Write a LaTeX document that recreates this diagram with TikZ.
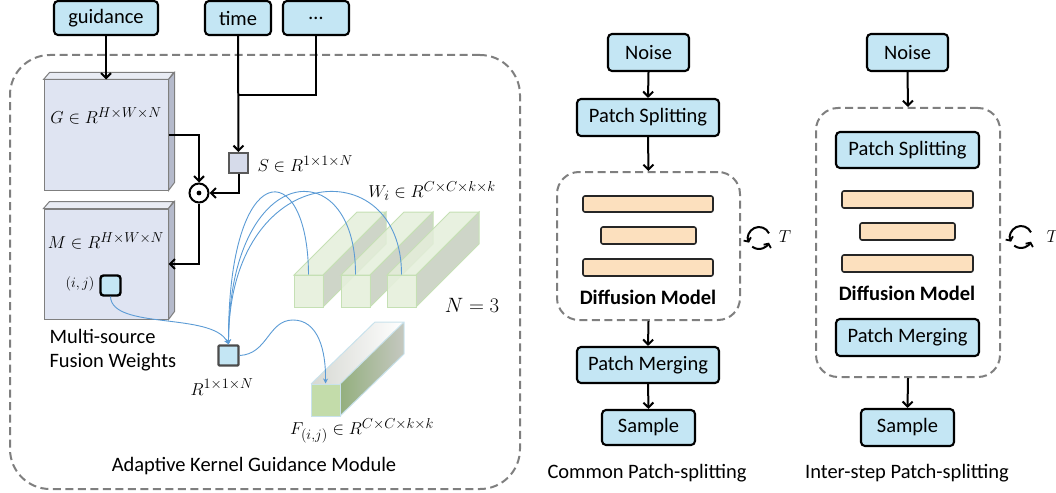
\documentclass[tikz,border=0pt]{standalone}
\usepackage{fontspec}
\setmainfont{Carlito}
\usetikzlibrary{arrows.meta,calc}
\definecolor{lblue}{HTML}{C4E6F4}
\definecolor{peach}{HTML}{FCE0BE}
\definecolor{gfront}{HTML}{DFE4F2}
\definecolor{gside}{HTML}{B5BACB}
\definecolor{gtop}{HTML}{E9ECF4}
\definecolor{sfill}{HTML}{D6DBEA}
\definecolor{cblue}{HTML}{5B9BD5}
\definecolor{dgray}{HTML}{7F7F7F}
\definecolor{wfront}{HTML}{E6F0DC}
\definecolor{wside}{HTML}{C6CEBE}
\definecolor{wtop}{HTML}{E4EEDA}
\definecolor{wedge}{HTML}{C5E0B4}
\definecolor{ffront}{HTML}{C3DCAA}
\definecolor{fgreen}{HTML}{93AF7E}
\definecolor{fgray}{HTML}{C5C8C0}
\definecolor{fedge}{HTML}{C9E2EC}
\tikzset{
  txt/.style={font=\fontsize{20.5}{24}\selectfont},
  mth/.style={font=\fontsize{19}{22}\selectfont},
  bluebox/.style={txt, draw=black, fill=lblue, line width=2.1pt, rounded corners=4pt, inner sep=0pt},
  dashbox/.style={draw=dgray, line width=2pt, dash pattern=on 8pt off 4.5pt, rounded corners=22pt, inner sep=0pt},
  bar/.style={draw=black!85, fill=peach, line width=1.6pt, rounded corners=2pt, inner sep=0pt},
  arr/.style={line width=2pt, -{Straight Barb[length=5pt,width=10pt,line width=2pt]}},
  ln/.style={line width=2pt},
  barr/.style={cblue, line width=0.9pt, -{Stealth[length=5pt,width=5pt]}},
  cube/.style={draw=dgray, line width=1pt},
  wbox/.style={draw=wedge, line width=1pt},
  cyc/.style={line width=2pt, -{Straight Barb[length=3pt,width=8pt,line width=1.8pt]}},
}
\begin{document}
\begin{tikzpicture}[x=1pt,y=-1pt]
\useasboundingbox (0,0) rectangle (1056,492);

% ---------- Left module ----------
\node[dashbox, rounded corners=40pt, minimum width=510pt, minimum height=434pt] (akg) at (265,272) {};
\node[txt] (akglab) at (254,466) {Adaptive Kernel Guidance Module};

% input boxes
\node[bluebox, minimum width=104pt, minimum height=34pt] (guid) at (106,18) {guidance};
\node[bluebox, minimum width=66pt, minimum height=34pt] (time) at (238,18) {time};
\node[bluebox, minimum width=66pt, minimum height=34pt] (dots) at (316,18) {\dots};

% G block
\node[cube, fill=gfront, minimum width=124pt, minimum height=110pt, inner sep=0pt] (G) at (106,135) {};
\draw[cube, fill=gtop] (G.north west) -- ++(6,-7) -- ++(124,0) -- (G.north east) -- cycle;
\draw[cube, fill=gside] (G.north east) -- ++(6,-7) -- ++(0,110) -- (G.south east) -- cycle;
\node[mth] (Glab) at (106,116) {$G\in R^{H\times W\times N}$};

% M block
\node[cube, fill=gfront, minimum width=124pt, minimum height=110pt, inner sep=0pt] (M) at (106,264) {};
\draw[cube, fill=gtop] (M.north west) -- ++(6,-7) -- ++(124,0) -- (M.north east) -- cycle;
\draw[cube, fill=gside] (M.north east) -- ++(6,-7) -- ++(0,110) -- (M.south east) -- cycle;
\node[mth] (Mlab) at (106,241) {$M\in R^{H\times W\times N}$};

\node[draw=black, fill=lblue, line width=2.4pt, rounded corners=3pt, minimum size=20pt, inner sep=0pt] (ij) at (110.5,285.5) {};
\node[font=\fontsize{14.5}{17}\selectfont] (ijlab) at (80,284) {$(i,j)$};

\node[txt, align=left, anchor=west] (msf) at (46,350) {Multi-source\\Fusion Weights};

% S box
\node[draw=black!65, fill=sfill, line width=2pt, minimum width=19pt, minimum height=20pt, inner sep=0pt] (S) at (238.5,163) {};
\node[mth, anchor=west] (Slab) at (254,164) {$S\in R^{1\times1\times N}$};

% odot
\node[draw=black, line width=2pt, circle, minimum size=19pt, inner sep=0pt] (od) at (199,193) {};
\fill (od.center) circle (2.4pt);

\coordinate (tj) at (238,95);
\draw[arr] (guid.south) -- (G.north);
\draw[arr] (time.south) -- (S.north);
\draw[ln] (dots.south) |- (tj);
\draw[arr] (G.east) -| (od.north);
\draw[arr] (S.south) |- (od.east);
\draw[arr] (od.south) |- (M.east);

% R box
\node[draw=black!70, fill=lblue, line width=2.4pt, rounded corners=1pt, minimum size=20pt, inner sep=0pt] (r) at (228.5,355.5) {};
\node[mth] (rlab) at (222,387) {$R^{1\times1\times N}$};

% W boxes
\foreach \x/\n in {294/w1,341/w2,387/w3}{
  \draw[wbox, fill=wside, fill opacity=0.85] (\x+29,275) -- (\x+92,212) -- (\x+92,244) -- (\x+29,307) -- cycle;
  \draw[wbox, fill=wtop, fill opacity=0.85] (\x,275) -- (\x+63,212) -- (\x+92,212) -- (\x+29,275) -- cycle;
  \node[wbox, fill=wfront, fill opacity=0.9, minimum width=29pt, minimum height=32pt, inner sep=0pt] (\n) at (\x+14.5,291) {};
}
\node[mth] (wlab) at (432,191) {$W_i\in R^{C\times C\times k\times k}$};
\node[font=\fontsize{21}{24}\selectfont] (nlab) at (472,305) {$N=3$};

% F box
\shade[left color=fgray!70, right color=white] (311,384) -- (375,322) -- (404,322) -- (340,384) -- cycle;
\shade[left color=fgreen, right color=fgray] (340,384) -- (404,322) -- (404,354) -- (340,416) -- cycle;
\draw[draw=fedge, line width=1pt] (311,384) -- (375,322) -- (404,322) -- (404,354) -- (340,416) (340,384) -- (404,322);
\node[draw=fedge, line width=1pt, fill=ffront, minimum width=29pt, minimum height=32pt, inner sep=0pt] (F) at (325.5,400) {};
\node[mth] (flab) at (362,431) {$F_{(i,j)}\in R^{C\times C\times k\times k}$};

% blue curves
\draw[barr] (ij.south) .. controls (112,330) and (212,312) .. (r.north);
\draw[barr] (w1.north) .. controls (308,155) and (228,155) .. (r.north);
\draw[barr] (w2.north) .. controls (356,150) and (229,160) .. (r.north);
\draw[barr] (w3.north) .. controls (402,150) and (229,160) .. (r.north);
\draw[barr] (r.east) .. controls (268,354) and (268,320) .. (293,320) .. controls (318,320) and (326,350) .. (F.north);

% ---------- Common patch-splitting ----------
\node[bluebox, minimum width=81pt, minimum height=37pt] (n1) at (648.5,52.5) {Noise};
\node[bluebox, minimum width=142pt, minimum height=37pt] (ps1) at (648,117.5) {Patch Splitting};
\node[dashbox, minimum width=183pt, minimum height=148pt] (dm1) at (648.5,246) {};
\node[bar, minimum width=130pt, minimum height=16pt] (b11) at (648,204) {};
\node[bar, minimum width=95pt, minimum height=17pt] (b12) at (648.5,235.5) {};
\node[bar, minimum width=130pt, minimum height=17pt] (b13) at (648,267.5) {};
\node[txt, font=\fontsize{20.5}{24}\selectfont\bfseries] (dml1) at (648,297) {Diffusion Model};
\node[bluebox, minimum width=142pt, minimum height=36pt] (pm1) at (648,365) {Patch Merging};
\node[bluebox, minimum width=93pt, minimum height=35pt] (s1) at (648.5,427.5) {Sample};
\node[txt] (cap1) at (647,473) {Common Patch-splitting};
\draw[arr] (n1.south) -- (ps1.north);
\draw[arr] (ps1.south) -- (dm1.north);
\draw[arr] (dm1.south) -- (pm1.north);
\draw[arr] (pm1.south) -- (s1.north);

\coordinate (c1) at (759,238);
\draw[cyc] ($(c1)+(25:11pt)$) arc[start angle=25, end angle=205, radius=11pt];
\draw[cyc] ($(c1)+(232:11pt)$) arc[start angle=232, end angle=335, radius=11pt];
\node[font=\fontsize{19}{22}\selectfont] (t1) at (785,237) {$T$};

% ---------- Inter-step patch-splitting ----------
\node[bluebox, minimum width=81pt, minimum height=37pt] (n2) at (907.5,52.5) {Noise};
\node[dashbox, minimum width=184pt, minimum height=269pt] (dm2) at (908,242.5) {};
\node[bluebox, minimum width=143pt, minimum height=36pt] (ps2) at (907.5,150) {Patch Splitting};
\node[bar, minimum width=131pt, minimum height=17pt] (b21) at (907.5,199.5) {};
\node[bar, minimum width=95pt, minimum height=17pt] (b22) at (907.5,231.5) {};
\node[bar, minimum width=131pt, minimum height=17pt] (b23) at (907.5,263.5) {};
\node[txt, font=\fontsize{20.5}{24}\selectfont\bfseries] (dml2) at (907,293) {Diffusion Model};
\node[bluebox, minimum width=143pt, minimum height=37pt] (pm2) at (907.5,337.5) {Patch Merging};
\node[bluebox, minimum width=93pt, minimum height=37pt] (s2) at (907.5,427.5) {Sample};
\node[txt] (cap2) at (907,473) {Inter-step Patch-splitting};
\draw[arr] (n2.south) -- (dm2.north);
\draw[arr] (dm2.south) -- (s2.north);

\coordinate (c2) at (1021,237);
\draw[cyc] ($(c2)+(25:11pt)$) arc[start angle=25, end angle=205, radius=11pt];
\draw[cyc] ($(c2)+(232:11pt)$) arc[start angle=232, end angle=335, radius=11pt];
\node[font=\fontsize{19}{22}\selectfont, anchor=west] (t2) at (1043,237) {$T$};
\end{tikzpicture}
\end{document}
